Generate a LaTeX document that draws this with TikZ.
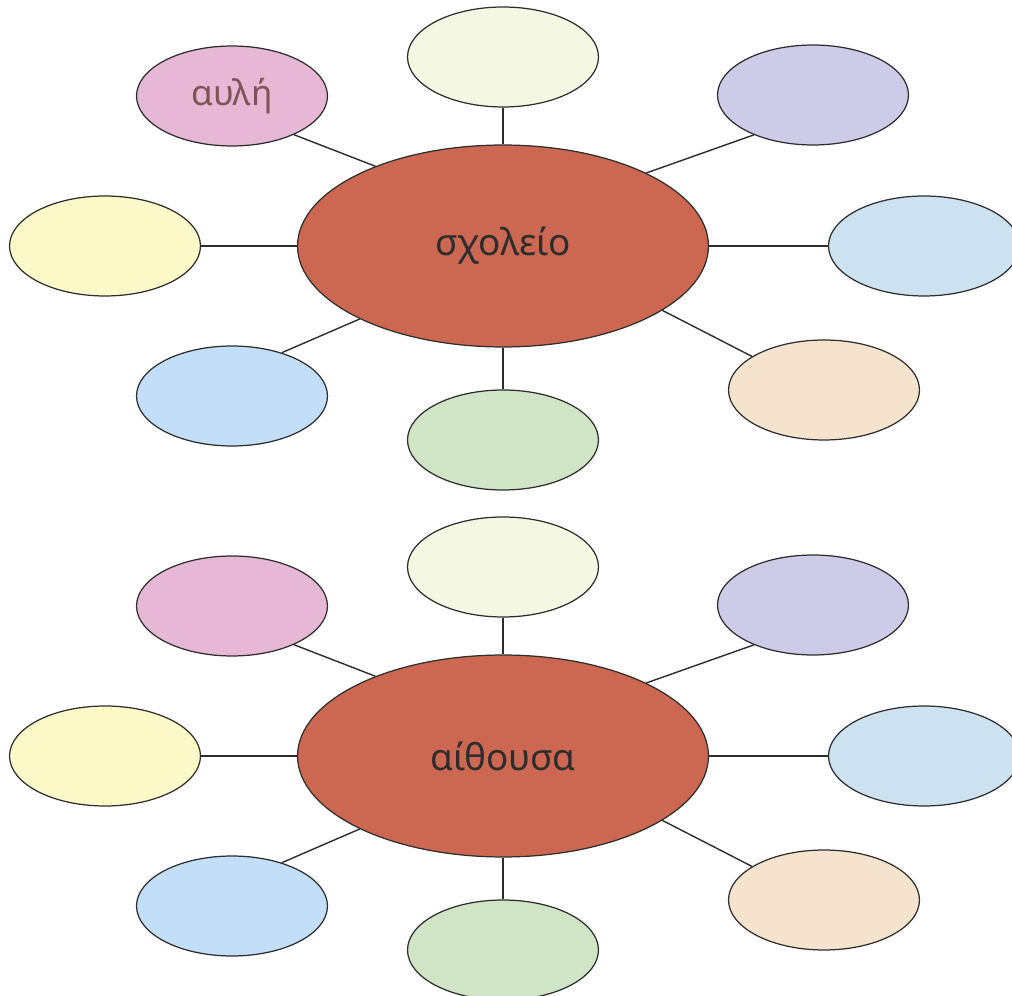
\documentclass[tikz,border=0pt]{standalone}
\usepackage{fontspec}
\setmainfont{Noto Sans}
\usepackage{tikz}
\usetikzlibrary{shapes.geometric}
\usetikzlibrary{positioning}
\definecolor{terracotta}{RGB}{204, 104, 82}
\definecolor{orchid}{RGB}{230, 184, 214}
\definecolor{ivory}{RGB}{244, 248, 226}
\definecolor{lavender}{RGB}{205, 203, 231}
\definecolor{skyblue}{RGB}{204, 226, 240}
\definecolor{peach}{RGB}{246, 227, 205}
\definecolor{sage}{RGB}{208, 228, 198}
\definecolor{cornflower}{RGB}{194, 222, 249}
\definecolor{lemon}{RGB}{252, 249, 200}
\definecolor{inkgray}{RGB}{45, 45, 45}
\definecolor{cocoa}{RGB}{125, 85, 85}

\begin{document}
\begin{tikzpicture}[x=0.02cm, y=-0.02cm,
        hub/.style={ellipse, draw=inkgray, line width=0.7pt, fill=terracotta,
                    minimum width=8.22cm, minimum height=4.04cm, inner sep=0pt,
                    font=\fontsize{21}{25}\selectfont, text=inkgray},
        leaf/.style={ellipse, draw=inkgray, line width=0.7pt,
                     minimum width=3.82cm, minimum height=2.0cm, inner sep=0pt,
                     font=\fontsize{20}{24}\selectfont, text=cocoa},
        spoke/.style={draw=inkgray, line width=0.8pt}]
            % Frame to fix the page size:
            \useasboundingbox                                  (   0,    0) rectangle (1012,  996);
            \clip                                              (   0,    0) rectangle (1012,  996);

            % First cluster
            \node[hub]                       (s)   at ( 503,  246) {σχολείο};
            \node[leaf, fill=ivory]          (s1)  at ( 503,   57) {};
            \node[leaf, fill=lavender]       (s2)  at ( 813,   95) {};
            \node[leaf, fill=skyblue]        (s3)  at ( 924,  246) {};
            \node[leaf, fill=peach]          (s4)  at ( 824,  390) {};
            \node[leaf, fill=sage]           (s5)  at ( 503,  440) {};
            \node[leaf, fill=cornflower]     (s6)  at ( 232,  396) {};
            \node[leaf, fill=lemon]          (s7)  at ( 105,  246) {};
            \node[leaf, fill=orchid]         (s8)  at ( 232,   96) {αυλή};
            \draw[spoke] (s.north)   -- (s1.south);
            \draw[spoke] (s.27.7)    -- (s2.214);
            \draw[spoke] (s.east)    -- (s3.west);
            \draw[spoke] (s.338.6)   -- (s4.155.4);
            \draw[spoke] (s.south)   -- (s5.north);
            \draw[spoke] (s.207.5)   -- (s6.41);
            \draw[spoke] (s.west)    -- (s7.east);
            \draw[spoke] (s.148.4)   -- (s8.328);

            % Second cluster
            \node[hub]                       (a)   at ( 503,  756) {αίθουσα};
            \node[leaf, fill=ivory]          (a1)  at ( 503,  567) {};
            \node[leaf, fill=lavender]       (a2)  at ( 813,  605) {};
            \node[leaf, fill=skyblue]        (a3)  at ( 924,  756) {};
            \node[leaf, fill=peach]          (a4)  at ( 824,  900) {};
            \node[leaf, fill=sage]           (a5)  at ( 503,  950) {};
            \node[leaf, fill=cornflower]     (a6)  at ( 232,  906) {};
            \node[leaf, fill=lemon]          (a7)  at ( 105,  756) {};
            \node[leaf, fill=orchid]         (a8)  at ( 232,  606) {};
            \draw[spoke] (a.north)   -- (a1.south);
            \draw[spoke] (a.27.7)    -- (a2.214);
            \draw[spoke] (a.east)    -- (a3.west);
            \draw[spoke] (a.338.6)   -- (a4.155.4);
            \draw[spoke] (a.south)   -- (a5.north);
            \draw[spoke] (a.207.5)   -- (a6.41);
            \draw[spoke] (a.west)    -- (a7.east);
            \draw[spoke] (a.148.4)   -- (a8.328);
        \end{tikzpicture}
\end{document}
